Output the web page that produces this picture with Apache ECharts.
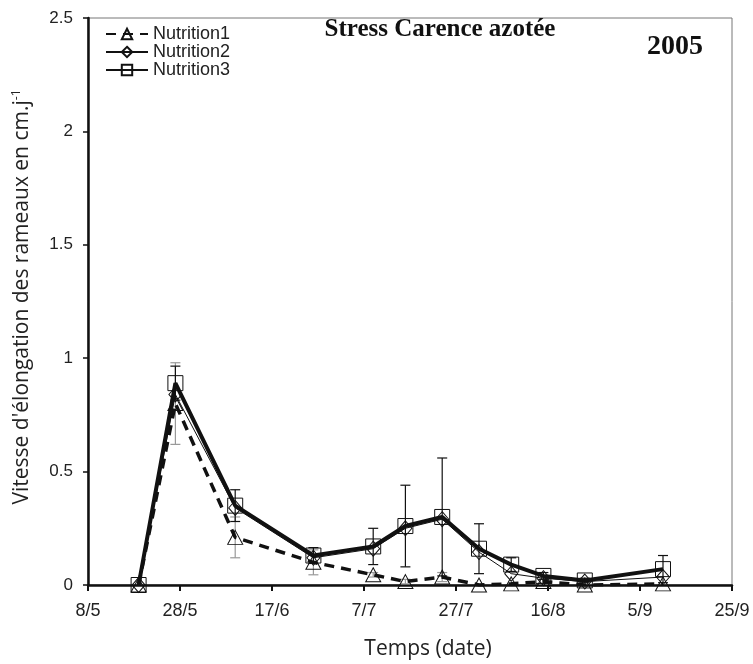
<!DOCTYPE html>
<html><head><meta charset="utf-8">
<script src="https://cdn.jsdelivr.net/npm/echarts@6/dist/echarts.min.js"></script>
<style>html,body{margin:0;padding:0;background:#fff}#c{width:753px;height:664px}</style>
</head><body><div id="c"></div>
<script>
const dates = ['19/5','27/5','9/6','26/6','9/7','16/7','24/7','1/8','8/8','15/8','24/8','10/9'];
const nutrition1 = [0, 0.80, 0.21, 0.10, 0.045, 0.015, 0.035, 0.0, 0.005, 0.015, 0.0, 0.005];
const nutrition2 = [0, 0.84, 0.34, 0.12, 0.16, 0.25, 0.29, 0.145, 0.05, 0.03, 0.015, 0.035];
const nutrition3 = [0, 0.89, 0.35, 0.13, 0.17, 0.26, 0.30, 0.16, 0.09, 0.04, 0.02, 0.07];
const err1 = [0, 0.18, 0.09, 0.055, 0.01, 0.01, 0.02, 0.0, 0.0, 0.01, 0.0, 0.0];
const err3 = [0, 0.075, 0.07, 0.035, 0.08, 0.18, 0.26, 0.11, 0.03, 0.015, 0.01, 0.06];
const xTickLabels = ['8/5','28/5','17/6','7/7','27/7','16/8','5/9','25/9'];
const yTickLabels = ['0','0.5','1','1.5','2','2.5'];

function dayOffset(s){const p=s.split('/').map(Number);return (Date.UTC(2005,p[1]-1,p[0])-Date.UTC(2005,4,8))/86400000;}
const xs = dates.map(dayOffset);
const pts = arr => arr.map((v,i)=>[xs[i],v]);
const errData = (vals, errs) => vals.map((v,i)=>[xs[i], Math.max(0,v-errs[i]), v+errs[i]]);

function errRender(color){
  return function(params, api){
    const x = api.value(0);
    const lo = api.coord([x, api.value(1)]);
    const hi = api.coord([x, api.value(2)]);
    if (Math.abs(hi[1]-lo[1]) < 1) return null;
    const w = 5;
    const st = {stroke: color, lineWidth: 1.2};
    return {type:'group', children:[
      {type:'line', shape:{x1:lo[0],y1:lo[1],x2:hi[0],y2:hi[1]}, style:st},
      {type:'line', shape:{x1:hi[0]-w,y1:hi[1],x2:hi[0]+w,y2:hi[1]}, style:st},
      {type:'line', shape:{x1:lo[0]-w,y1:lo[1],x2:lo[0]+w,y2:lo[1]}, style:st}
    ]};
  };
}

const chart = echarts.init(document.getElementById('c'));
const open = {color:'rgba(255,255,255,0)', borderColor:'#111', borderWidth:1};
chart.setOption({
  animation:false,
  grid:{left:88,right:21,top:18,bottom:79,show:true,borderColor:'#777',borderWidth:1,backgroundColor:'transparent'},
  title:{text:'Stress Carence azotée',left:435,textAlign:'center',top:12,
    textStyle:{fontFamily:'Liberation Serif',fontWeight:'bold',fontSize:25,color:'#111',backgroundColor:'#fff',padding:[0,5]}},
  legend:{orient:'vertical',left:105,top:25,itemWidth:42,itemHeight:13,itemGap:0,padding:0,
    textStyle:{fontFamily:'Liberation Sans',fontSize:18,lineHeight:17,color:'#222'},
    data:['Nutrition1','Nutrition2','Nutrition3']},
  xAxis:{type:'value',min:0,max:140,interval:20,
    axisLine:{lineStyle:{color:'#111',width:2.5}},
    axisTick:{inside:false,length:6,lineStyle:{color:'#111',width:2}},
    splitLine:{show:false},
    axisLabel:{formatter:v=>xTickLabels[Math.round(v/20)],fontFamily:'Liberation Sans',fontSize:18,color:'#222',margin:17}},
  yAxis:{type:'value',min:0,max:2.5,interval:0.5,
    axisLine:{show:true,lineStyle:{color:'#111',width:2.5}},
    axisTick:{show:true,inside:false,length:5,lineStyle:{color:'#111',width:1.5}},
    splitLine:{show:false},
    axisLabel:{formatter:v=>yTickLabels[Math.round(v/0.5)],fontFamily:'Liberation Sans',fontSize:17,color:'#222',margin:15}},
  graphic:[
    {type:'text',x:22,y:297,rotation:Math.PI/2,
      style:{text:"{a|Vitesse d'élongation des rameaux en cm.j}{s|-1}",align:'center',verticalAlign:'middle',
        rich:{a:{fontFamily:'Open Sans',fontSize:21,fill:'#222'},s:{fontFamily:'Open Sans',fontSize:12,fill:'#222',verticalAlign:'top',padding:[0,0,10,0]}}}},
    {type:'text',x:428,y:649,style:{text:'Temps (date)',align:'center',verticalAlign:'middle',fontFamily:'Open Sans',fontSize:21,fill:'#222'}},
    {type:'text',right:50,top:33,style:{text:'2005',fontFamily:'Liberation Serif',fontWeight:'bold',fontSize:28,fill:'#111'}}
  ],
  series:[
    {type:'custom',name:'err1',renderItem:errRender('#999'),data:errData(nutrition1,err1),z:1,silent:true},
    {type:'custom',name:'err3',renderItem:errRender('#111'),data:errData(nutrition3,err3),z:1,silent:true},
    {type:'line',name:'Nutrition1',data:pts(nutrition1),symbol:'triangle',symbolSize:[15,14],
      lineStyle:{color:'#111',width:3.5,type:[10,7]},itemStyle:open,z:3},
    {type:'line',name:'Nutrition2',data:pts(nutrition2),symbol:'diamond',symbolSize:[13,15],
      lineStyle:{color:'#111',width:1},itemStyle:open,z:4},
    {type:'line',name:'Nutrition3',data:pts(nutrition3),symbol:'rect',symbolSize:15,
      lineStyle:{color:'#111',width:4},itemStyle:open,z:5}
  ]
});
</script></body></html>
